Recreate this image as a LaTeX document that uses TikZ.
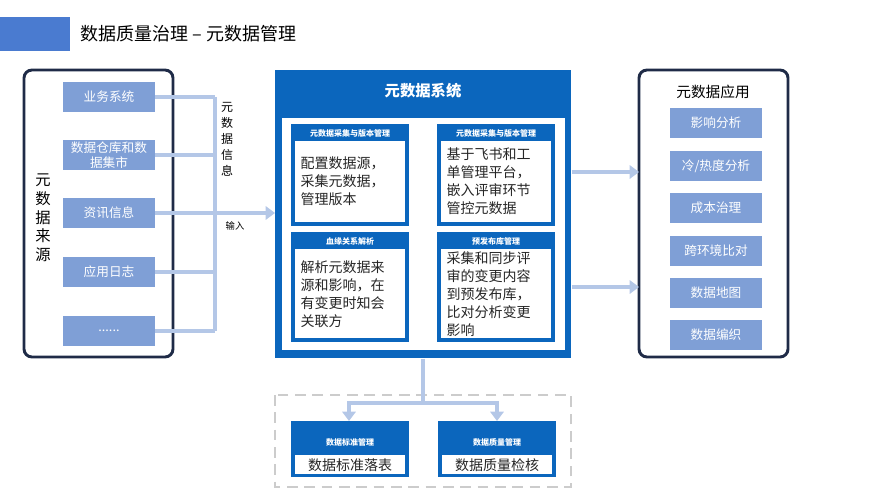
\documentclass[tikz,border=0pt]{standalone}
\usepackage{fontspec}
\newfontfamily\cjk{Noto Sans CJK SC}
\setmainfont{Noto Sans CJK SC}
\usetikzlibrary{arrows.meta}
\definecolor{dblue}{HTML}{0B66BD}
\definecolor{item}{HTML}{7F9FD6}
\definecolor{conn}{HTML}{B4C7E7}
\definecolor{frame}{HTML}{1F2B47}
\definecolor{tbar}{HTML}{4A7BD0}
\tikzset{
 itembox/.style={fill=item,text=white,minimum width=69pt,minimum height=23pt,inner sep=1pt,font=\fontsize{9.5}{11}\selectfont,align=center,text width=67pt},
 frm/.style={draw=frame,line width=2.2pt,rounded corners=6pt,fill=white},
 cl/.style={draw=conn,line width=3pt},
 ca/.style={cl,-{Triangle[length=7pt,width=10pt]}},
 hdr/.style={fill=dblue,text=white,font=\bfseries\fontsize{6}{7}\selectfont},
 body/.style={font=\fontsize{10.5}{13.5}\selectfont,align=left,anchor=north west,text=black!85},
}
\begin{document}
\begin{tikzpicture}[x=0.75pt,y=-0.75pt]
\useasboundingbox (0,0) rectangle (889,500);
% title
\fill[tbar] (0,17) rectangle (70,51);
\node[anchor=west,font=\fontsize{13.5}{16}\selectfont] (title) at (76,34) {数据质量治理 – 元数据管理};
% left frame
\draw[frm] (24,70) rectangle (173,357);
\node[font=\fontsize{11.5}{14}\selectfont,align=center] (src) at (43,218) {元\\数\\据\\来\\源};
\node[itembox] (s1) at (109,97) {业务系统};
\node[itembox] (s2) at (109,155) {数据仓库和数\\据集市};
\node[itembox] (s3) at (109,213) {资讯信息};
\node[itembox] (s4) at (109,272) {应用日志};
\node[itembox] (s5) at (109,331) {......};
\coordinate (bus1) at (215,97);
\coordinate (bus5) at (215,331);
\foreach \n in {s1,s2,s4,s5}{\draw[cl] (\n.east) -- (\n.east -| bus1);}
\draw[cl] (bus1) -- (bus5);
% central
\node[draw=none,fill=dblue,minimum width=222pt,minimum height=216pt,anchor=north west,inner sep=0] (sys) at (275,70) {};
\draw[ca] (s3.east) -- (s3.east -| sys.west);
\node[font=\fontsize{9}{12}\selectfont,align=center] (info) at (227,139) {元\\数\\据\\信\\息};
\node[font=\fontsize{7}{8}\selectfont] (inp) at (235,226) {输入};
\node[text=white,font=\bfseries\fontsize{11.5}{14}\selectfont] (systitle) at (423,91) {元数据系统};
\fill[white] (282,118) rectangle (565,350);
% subpanels
\foreach \x/\y/\h/\nm in {291/124/102/p1,437/124/102/p2,291/232/110/p3,437/232/110/p4}{
 \fill[dblue] (\x,\y) rectangle (\x+118,\y+\h);
 \fill[white] (\x+4,\y+17) rectangle (\x+114,\y+\h-4);
}
\node[hdr] (h1) at (350,133) {元数据采集与版本管理};
\node[hdr] (h2) at (496,133) {元数据采集与版本管理};
\node[hdr] (h3) at (350,241) {血缘关系解析};
\node[hdr] (h4) at (496,241) {预发布库管理};
\node[body] (b1) at (296,152) {配置数据源，\\采集元数据，\\管理版本};
\node[body] (b2) at (442,143) {基于飞书和工\\单管理平台，\\嵌入评审环节\\管控元数据};
\node[body] (b3) at (296,256) {解析元数据来\\源和影响，在\\有变更时知会\\关联方};
\node[body] (b4) at (442,247) {采集和同步评\\审的变更内容\\到预发布库，\\比对分析变更\\影响};
% right frame
\draw[frm] (639,70) rectangle (788,357);
\node[font=\fontsize{11}{13}\selectfont] (apptitle) at (713,92) {元数据应用};
\node[itembox] (a1) at (716,123) {影响分析};
\node[itembox] (a2) at (716,166) {冷/热度分析};
\node[itembox] (a3) at (716,208) {成本治理};
\node[itembox] (a4) at (716,251) {跨环境比对};
\node[itembox] (a5) at (716,293) {数据地图};
\node[itembox] (a6) at (716,335) {数据编织};
\coordinate (r1) at (639,172);
\coordinate (r2) at (639,287);
\draw[ca] (r1 -| sys.east) -- (r1);
\draw[ca] (r2 -| sys.east) -- (r2);
% bottom
\draw[dashed,draw=gray!40,line width=1.2pt,dash pattern=on 8pt off 5pt] (275,395) rectangle (571,487);
\foreach \x in {291,438}{
 \fill[dblue] (\x,421) rectangle (\x+118,477);
 \fill[white] (\x+4,455) rectangle (\x+114,474);
}
\node[hdr] (q1) at (350,442) {数据标准管理};
\node[hdr] (q2) at (497,442) {数据质量管理};
\node[font=\fontsize{10.5}{12}\selectfont,text=black!85] (t1) at (350,465) {数据标准落表};
\node[font=\fontsize{10.5}{12}\selectfont,text=black!85] (t2) at (497,465) {数据质量检核};
\coordinate (j) at (423,403);
\draw[cl] (sys.south -| j) -- (j);
\draw[ca] (j) -| (349,421);
\draw[ca] (j) -| (497,421);
\end{tikzpicture}
\end{document}
